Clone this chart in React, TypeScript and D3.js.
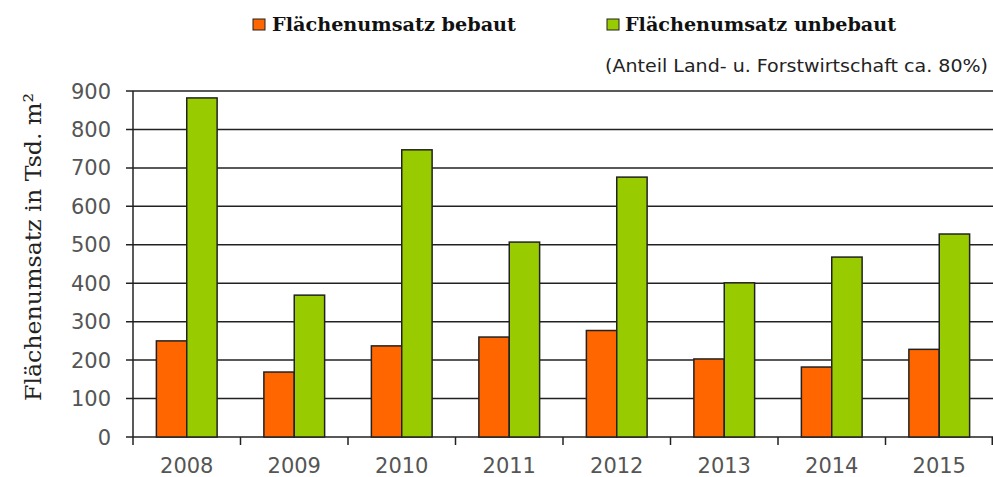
import * as d3 from "d3";

const years = ["2008", "2009", "2010", "2011", "2012", "2013", "2014", "2015"];
const bebaut = [250, 169, 237, 260, 277, 203, 182, 228];
const unbebaut = [882, 369, 747, 507, 676, 401, 468, 528];
const yTicks = [0, 100, 200, 300, 400, 500, 600, 700, 800, 900];
const seriesNames = ["Flächenumsatz bebaut", "Flächenumsatz unbebaut"];
const seriesColors = ["#ff6600", "#99cc00"];

const width = 993;
const height = 477;
const margin = { top: 91, right: 0, bottom: 40, left: 133 };

export default function App() {
  const innerW = width - margin.left - margin.right;
  const innerH = height - margin.top - margin.bottom;

  const x = d3.scaleBand<string>().domain(years).range([0, innerW]).padding(0);
  const xSub = d3
    .scaleBand<number>()
    .domain([0, 1])
    .range([0, x.bandwidth()])
    .paddingInner(0)
    .paddingOuter(0.77);
  const y = d3.scaleLinear().domain([0, 900]).range([innerH, 0]);

  const series = [bebaut, unbebaut];

  return (
    <svg
      width={width}
      height={height}
      style={{ position: "absolute", left: 0, top: 0, background: "#fff" }}
    >
      {/* legend */}
      <g fontFamily="'DejaVu Serif', serif" fontWeight="bold" fontSize={18} fill="#111">
        <rect x={253} y={19} width={12} height={11} fill={seriesColors[0]} stroke="#222" strokeWidth={1} />
        <text x={272} y={31} textLength={244} lengthAdjust="spacingAndGlyphs">{seriesNames[0]}</text>
        <rect x={607} y={19} width={12} height={11} fill={seriesColors[1]} stroke="#222" strokeWidth={1} />
        <text x={625} y={31} textLength={271} lengthAdjust="spacingAndGlyphs">{seriesNames[1]}</text>
      </g>
      <text
        x={605}
        y={72}
        fontFamily="'DejaVu Sans', sans-serif"
        fontSize={18}
        fill="#222"
        textLength={383}
        lengthAdjust="spacingAndGlyphs"
      >
        (Anteil Land- u. Forstwirtschaft ca. 80%)
      </text>

      {/* y title */}
      <text
        transform="translate(41, 247) rotate(-90)"
        textAnchor="middle"
        fontFamily="'DejaVu Serif', serif"
        fontSize={23}
        fill="#222"
        textLength={308}
        lengthAdjust="spacingAndGlyphs"
      >
        Flächenumsatz in Tsd. m²
      </text>

      <g transform={`translate(${margin.left},${margin.top})`}>
        {/* grid + y ticks */}
        {yTicks.map((t) => (
          <g key={t}>
            <line x1={-7} x2={innerW} y1={y(t)} y2={y(t)} stroke="#222" strokeWidth={1.5} />
            <text
              x={-22}
              y={y(t)}
              dy="0.36em"
              textAnchor="end"
              fontFamily="'DejaVu Sans', sans-serif"
              fontSize={21}
              fill="#555"
            >
              {t}
            </text>
          </g>
        ))}

        {/* bars */}
        {years.map((yr, i) => (
          <g key={yr} transform={`translate(${x(yr)},0)`}>
            {series.map((s, j) => (
              <rect
                key={j}
                x={xSub(j)}
                y={y(s[i])}
                width={xSub.bandwidth()}
                height={y(0) - y(s[i])}
                fill={seriesColors[j]}
                stroke="#222"
                strokeWidth={1.5}
              />
            ))}
          </g>
        ))}

        {/* y axis line */}
        <line x1={0} x2={0} y1={0} y2={innerH} stroke="#222" strokeWidth={1.5} />

        {/* x ticks at category boundaries */}
        {years.map((yr) => (
          <line
            key={yr}
            x1={x(yr)!}
            x2={x(yr)!}
            y1={innerH}
            y2={innerH + 8}
            stroke="#222"
            strokeWidth={1.5}
          />
        ))}
        <line x1={innerW - 0.75} x2={innerW - 0.75} y1={innerH} y2={innerH + 8} stroke="#222" strokeWidth={1.5} />

        {/* x labels */}
        {years.map((yr) => (
          <text
            key={yr}
            x={x(yr)! + x.bandwidth() / 2}
            y={innerH + 36}
            textAnchor="middle"
            fontFamily="'DejaVu Sans', sans-serif"
            fontSize={21}
            fill="#555"
          >
            {yr}
          </text>
        ))}
      </g>
    </svg>
  );
}
